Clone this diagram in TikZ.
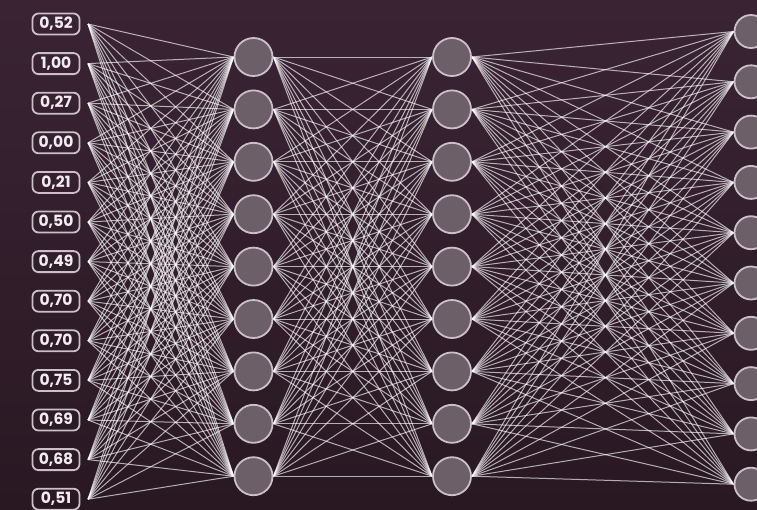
\documentclass[tikz,border=0pt]{standalone}
\usepackage{fontspec}
\newfontfamily\numfont{Poppins}
\definecolor{bgtop}{HTML}{3A2434}
\definecolor{bgbot}{HTML}{291822}
\definecolor{ringc}{HTML}{CBC0C8}
\definecolor{cellc}{HTML}{6C5F68}
\definecolor{txtc}{HTML}{F2ECF0}
\pgfdeclarelayer{back}
\pgfdeclarelayer{wires}
\pgfsetlayers{back,wires,main}
\tikzset{
  inbox/.style={draw=ringc, line width=1.8pt, rounded corners=6pt, minimum width=47pt, minimum height=21pt, inner sep=0pt, text=txtc, font=\numfont\bfseries\fontsize{15.5}{16}\selectfont},
  cell/.style={circle, draw=ringc, fill=cellc, line width=1.8pt, minimum size=#1, inner sep=0pt},
  wire/.style={white, opacity=0.65, line width=1pt}
}
\begin{document}
\begin{tikzpicture}[x=1pt,y=-1pt]
\useasboundingbox (0,0) rectangle (757,509);
\begin{pgfonlayer}{back}
\shade[top color=bgtop, bottom color=bgbot] (0,0) rectangle (757,509);
\end{pgfonlayer}
% input values
\foreach \v [count=\i from 0] in {{0,52},{1,00},{0,27},{0,00},{0,21},{0,50},{0,49},{0,70},{0,70},{0,75},{0,69},{0,68},{0,51}} {
  \node[inbox] (in\i) at (56, 24+39.6*\i) {\v};
  \coordinate (ip\i) at (88, 24+39.6*\i);
}
% hidden layers
\foreach \j in {0,...,8} {
  \node[cell=38pt] (ha\j) at (253.5, 57+52.4*\j) {};
  \node[cell=38pt] (hb\j) at (452, 57+52.4*\j) {};
}
% outputs
\foreach \k in {0,...,9} {
  \node[cell=33pt] (out\k) at (751, 31.5+50.3*\k) {};
}
% wires
\begin{pgfonlayer}{wires}
\foreach \i in {0,...,12} {
  \foreach \j in {0,...,8} {
    \draw[wire] (ip\i) -- (ha\j.west);
  }
}
\foreach \i in {0,...,8} {
  \foreach \j in {0,...,8} {
    \draw[wire] (ha\i.east) -- (hb\j.west);
  }
}
\foreach \i in {0,...,8} {
  \foreach \k in {0,...,9} {
    \draw[wire] (hb\i.east) -- (out\k.west);
  }
}
\end{pgfonlayer}
\end{tikzpicture}
\end{document}
